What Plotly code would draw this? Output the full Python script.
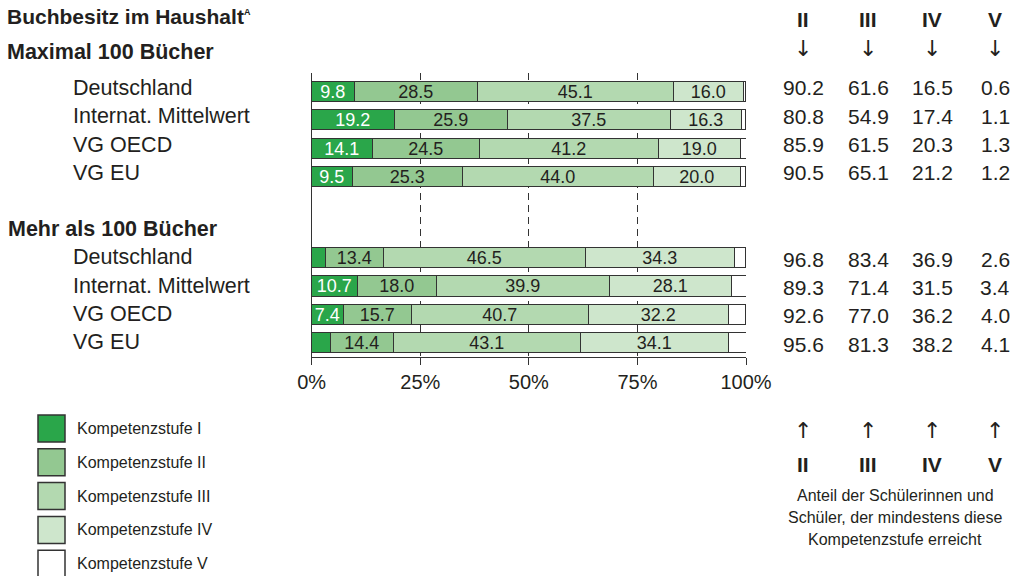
import plotly.graph_objects as go

W, H = 1017, 576
FONT = "Liberation Sans, Arial, sans-serif"
ARROW_FONT = "DejaVu Sans, sans-serif"
INK = "#231f20"

countries = ["Deutschland", "Internat. Mittelwert", "VG OECD", "VG EU"]
groups = ["Maximal 100 Bücher", "Mehr als 100 Bücher"]
levels = ["Kompetenzstufe I", "Kompetenzstufe II", "Kompetenzstufe III",
          "Kompetenzstufe IV", "Kompetenzstufe V"]
level_colors = ["#2aa64a", "#93c891", "#b3d9b0", "#cee6cc", "#ffffff"]
roman = ["II", "III", "IV", "V"]
x_ticks = [0, 25, 50, 75, 100]
x_ticktext = ["0%", "25%", "50%", "75%", "100%"]

# Anteile je Kompetenzstufe; erst 4 Zeilen "maximal 100", dann 4 Zeilen "mehr als 100"
stufe_1 = [9.8, 19.2, 14.1, 9.5, 3.2, 10.7, 7.4, 4.4]
stufe_2 = [28.5, 25.9, 24.5, 25.3, 13.4, 18.0, 15.7, 14.4]
stufe_3 = [45.1, 37.5, 41.2, 44.0, 46.5, 39.9, 40.7, 43.1]
stufe_4 = [16.0, 16.3, 19.0, 20.0, 34.3, 28.1, 32.2, 34.1]
stufe_5 = [0.6, 1.1, 1.3, 1.2, 2.6, 3.4, 4.0, 4.1]

# Anteil, der mindestens Stufe II..V erreicht
mind_2 = [90.2, 80.8, 85.9, 90.5, 96.8, 89.3, 92.6, 95.6]
mind_3 = [61.6, 54.9, 61.5, 65.1, 83.4, 71.4, 77.0, 81.3]
mind_4 = [16.5, 17.4, 20.3, 21.2, 36.9, 31.5, 36.2, 38.2]
mind_5 = [0.6, 1.1, 1.3, 1.2, 2.6, 3.4, 4.0, 4.1]

note = ["Anteil der Schülerinnen und", "Schüler, der mindestens diese",
        "Kompetenzstufe erreicht"]


def px_x(x):
    return x / W


def px_y(y):
    return 1 - y / H


# row positions: two groups of four, with a gap between
gap = 1.87
rows = list(range(4)) + [i + 4 + gap for i in range(4)]

fig = go.Figure()

series = [stufe_1, stufe_2, stufe_3, stufe_4, stufe_5]
for k, vals in enumerate(series):
    if k == 4:
        txt = None
    else:
        txt = [f"{v:.1f}" if v >= 5 else "" for v in vals]
    fig.add_trace(go.Bar(
        orientation="h", x=vals, y=rows, width=0.71, name=levels[k],
        marker=dict(color=level_colors[k], line=dict(color="#333333", width=1)),
        text=txt, textposition="inside", insidetextanchor="middle",
        textangle=0, constraintext="none",
        textfont=dict(family=FONT, size=18, color="#ffffff" if k == 0 else INK),
        hoverinfo="x+name",
    ))

# helper trace so the dashed grid axis exists
fig.add_trace(go.Scatter(x=[], y=[], xaxis="x2", yaxis="y", showlegend=False))

ann = []


def text(t, x, y, size, bold=False, anchor="left", yref="paper", yshift=0,
         color=INK, family=FONT):
    if bold:
        t = "<b>" + t + "</b>"
    ann.append(dict(text=t, x=px_x(x), xref="paper", y=y if yref == "y" else px_y(y),
                    yref=yref, xanchor=anchor, yanchor="middle", showarrow=False,
                    yshift=yshift, font=dict(family=family, size=size, color=color)))


text("Buchbesitz im Haushalt<sup><span style='font-size:9px'>A</span></sup>", 5, 16, 21, bold=True)
text(groups[0], 5, 52, 21.5, bold=True)
text(groups[1], 6, 229, 21.5, bold=True)

for i, r in enumerate(rows):
    shift = 4 if i < 4 else 1
    text(countries[i % 4], 71, r, 21.5, yref="y", yshift=shift)

col_x = [803, 868, 932, 995]
for c, vals in enumerate([mind_2, mind_3, mind_4, mind_5]):
    text(roman[c], col_x[c], 19, 21, bold=True, anchor="center")
    text("↓", col_x[c], 49, 22, anchor="center", family=ARROW_FONT)
    text("↑", col_x[c], 430, 22, anchor="center", family=ARROW_FONT)
    text(roman[c], col_x[c], 464, 21, bold=True, anchor="center")
    for i, r in enumerate(rows):
        shift = 4 if i < 4 else -1
        text(f"{vals[i]:.1f}", col_x[c], r, 21, anchor="center", yref="y", yshift=shift)

for j, line in enumerate(note):
    text(line, 895, 495 + j * 22, 16, anchor="center")

shapes = []
for k, lab in enumerate(levels):
    top = 415 + k * 33.8
    shapes.append(dict(type="rect", xref="paper", yref="paper",
                       x0=px_x(38), x1=px_x(65), y0=px_y(top), y1=px_y(top + 27),
                       fillcolor=level_colors[k], line=dict(color="#333333", width=1.5)))
    text(lab, 75, top + 13.5, 16)

fig.update_layout(
    width=W, height=H, margin=dict(l=0, r=0, t=0, b=0, autoexpand=False),
    paper_bgcolor="white", plot_bgcolor="white",
    barmode="stack", bargap=0, showlegend=False,
    font=dict(family=FONT, color=INK),
    xaxis=dict(domain=[px_x(311.7), px_x(746)], range=[0, 100],
               tickvals=x_ticks, ticktext=x_ticktext, automargin=False,
               showgrid=False, zeroline=False, showline=True, linecolor="#333333",
               linewidth=1, ticks="outside", ticklen=7, tickcolor="#333333",
               tickfont=dict(family=FONT, size=20, color=INK), fixedrange=True),
    xaxis2=dict(overlaying="x", range=[0, 100], tickvals=x_ticks[1:4], automargin=False,
                showgrid=True, griddash="7px,5px", gridcolor="#333333", gridwidth=1,
                showticklabels=False, ticks="", showline=False, zeroline=False,
                side="top", anchor="y"),
    yaxis=dict(domain=[px_y(357), px_y(73)], range=[9.36, -0.67], automargin=False,
               showticklabels=False, showgrid=False, zeroline=False,
               showline=True, linecolor="#333333", linewidth=1, ticks="", fixedrange=True),
    annotations=ann, shapes=shapes,
)

fig.write_html("out.html", config={"displayModeBar": False},
               post_script="document.body.style.margin='0';")
